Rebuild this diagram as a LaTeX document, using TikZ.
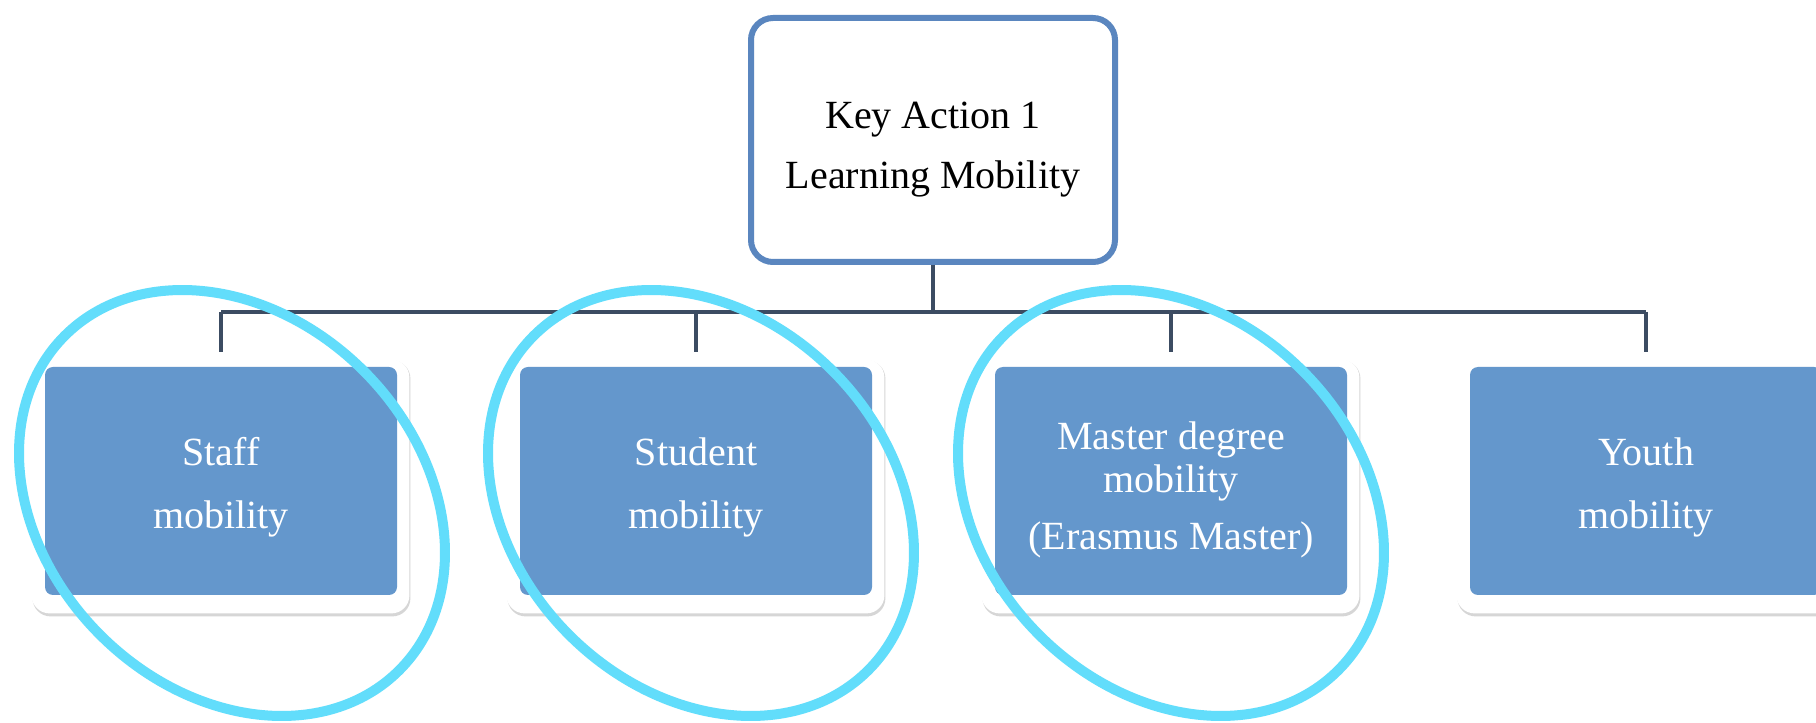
\documentclass[tikz,border=0pt]{standalone}
\usepackage{fontspec}
\setmainfont{Liberation Serif}
\usepackage{xcolor}
\usepackage{tikz}
\usetikzlibrary{shapes.geometric,backgrounds}

\definecolor{boxblue}{RGB}{100,151,204}
\definecolor{rimblue}{RGB}{90,134,191}
\definecolor{linkgrey}{RGB}{60,76,98}
\definecolor{ringcyan}{RGB}{98,221,251}

\tikzset{
	keybox/.style={draw=rimblue, line width=3pt, fill=white, rounded corners=11pt, minimum width=182pt, minimum height=122pt},
	keytext/.style={align=center, font=\fontsize{20}{30}\selectfont},
	mobbox/.style={fill=boxblue, rounded corners=4pt, minimum width=176pt, minimum height=114pt},
	mobtext/.style={align=center, text=white, font=\fontsize{20}{31.5}\selectfont},
	link/.style={draw=linkgrey, line width=1.8pt},
	ring/.style={ellipse, draw=ringcyan, line width=5pt, minimum width=236.5pt, minimum height=186.5pt, rotate=-45, inner sep=0pt},
}

\begin{document}
\begin{tikzpicture}[x=0.5pt, y=0.5pt]
	\useasboundingbox (0,0) rectangle (1816,723);
	\node[keybox] (key) at (933,583) {};
	\node[keytext] (keylabel) at ([yshift=-5pt]key.center) {Key Action 1\\Learning Mobility};
	\foreach \n/\x in {staff/221,student/696,master/1171,youth/1646}
		\node[mobbox] (\n) at (\x,242) {};
	\node[mobtext] (stafflabel) at ([yshift=-3pt]staff.center) {Staff\\mobility};
	\node[mobtext] (studentlabel) at ([yshift=-3pt]student.center) {Student\\mobility};
	\node[mobtext, font=\fontsize{20}{24}\selectfont] (masterlabel) at ([yshift=-4.5pt]master.center) {Master degree\\[-2.5pt]mobility\\[4.5pt](Erasmus Master)};
	\node[mobtext] (youthlabel) at ([yshift=-3pt]youth.center) {Youth\\mobility};
	\begin{scope}[on background layer]
		\fill[white] (0,0) rectangle (1816,723);
		\foreach \n in {staff,student,master,youth} {
			\fill[black!16, rounded corners=9pt] ([xshift=-6pt, yshift=-10.5pt]\n.south west) rectangle ([xshift=6.5pt, yshift=3pt]\n.north east);
			\fill[white, rounded corners=9pt] ([xshift=-6.5pt, yshift=-9pt]\n.south west) rectangle ([xshift=6pt, yshift=3.5pt]\n.north east);
		}
	\end{scope}
	\coordinate (bus) at (933,411);
	\draw[link] (key.south) -- (bus);
	\draw[link] (staff.north |- bus) -- (youth.north |- bus);
	\foreach \n in {staff,student,master,youth}
		\draw[link] (\n.north |- bus) -- ([yshift=7.5pt]\n.north);
	\node[ring] (staffring) at ([xshift=5.5pt, yshift=-11pt]staff.center) {};
	\node[ring] (studentring) at ([xshift=2.5pt, yshift=-11pt]student.center) {};
	\node[ring] (masterring) at ([yshift=-11pt]master.center) {};
\end{tikzpicture}
\end{document}
